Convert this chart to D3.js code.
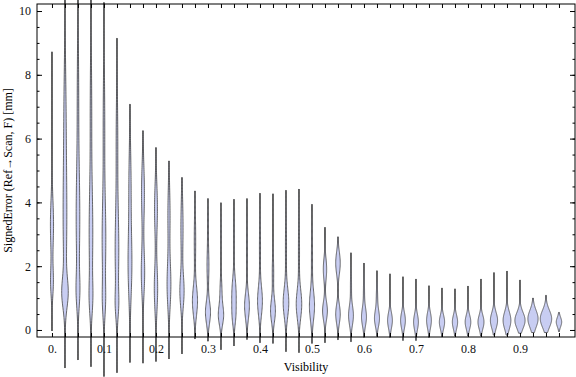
<!DOCTYPE html>
<html>
<head>
<meta charset="utf-8">
<script src="https://cdn.jsdelivr.net/npm/d3@7"></script>
<style>
  body { margin: 0; background: #fff; }
  text { font-family: "Liberation Serif", "DejaVu Serif", serif; }
</style>
</head>
<body>
<div id="myChart"></div>
<script>
// visibility bins (one violin per bin)
const visibility = d3.range(40).map(i => +(i * 0.025).toFixed(3));

// lowest and highest signed error in each bin [mm]
const lows = [-0.03, -1.19, -0.94, -1.15, -1.46, -1.34, -1.02, -1.04, -0.99, -0.91,
              -0.75, -0.28, -0.35, -0.62, -0.5, -0.3, -0.4, -0.42, -0.68, -0.71,
              -0.42, -0.4, -0.31, -0.37, -0.23, -0.2, -0.23, -0.33, -0.33, -0.23,
              -0.21, -0.19, -0.19, -0.19, -0.16, -0.16, -0.1, -0.08, -0.08, -0.05];
const highs = [8.72, 11.5, 11.2, 11.3, 10.27, 9.15, 7.08, 6.25, 5.72, 5.3,
               4.78, 4.36, 4.12, 3.99, 4.1, 4.12, 4.29, 4.27, 4.38, 4.42,
               3.94, 3.22, 2.92, 2.42, 2.1, 1.86, 1.76, 1.67, 1.6, 1.39,
               1.32, 1.29, 1.38, 1.6, 1.8, 1.85, 1.57, 1.0, 1.09, 0.55];

// density modes in each bin: [centre, spread, relative density]
const modes = [
  [[3.3, 0.8, 0.26], [1.5, 0.45, 0.22]],
  [[1.15, 0.45, 0.42], [3.5, 1.8, 0.3], [7, 1.5, 0.14]],
  [[3.5, 1.6, 0.3], [1.2, 0.5, 0.22], [7.5, 1.5, 0.11]],
  [[3.0, 1.5, 0.3], [1.0, 0.5, 0.2], [7, 1.5, 0.12]],
  [[2.8, 1.3, 0.3], [6.5, 1.5, 0.13], [0.9, 0.5, 0.18]],
  [[2.5, 1.3, 0.3], [6, 1.3, 0.13], [0.8, 0.4, 0.18]],
  [[2.0, 1.0, 0.3], [4.5, 1.2, 0.18]],
  [[1.8, 0.7, 0.28], [4.3, 0.9, 0.24]],
  [[1.3, 0.7, 0.28], [3.8, 0.8, 0.24]],
  [[1.4, 0.7, 0.31], [3.6, 0.9, 0.18]],
  [[1.2, 0.5, 0.34], [3.2, 0.9, 0.18]],
  [[0.9, 0.45, 0.42], [2.8, 0.8, 0.12]],
  [[0.55, 0.35, 0.42], [2.0, 0.5, 0.16], [3.3, 0.5, 0.07]],
  [[0.45, 0.3, 0.42], [1.2, 0.4, 0.16], [3, 0.6, 0.05]],
  [[1.1, 0.5, 0.36], [0.4, 0.3, 0.18], [3, 0.5, 0.05]],
  [[0.75, 0.4, 0.4], [2.5, 0.6, 0.07]],
  [[0.9, 0.45, 0.4], [2.6, 0.7, 0.09]],
  [[0.6, 0.35, 0.4], [1.8, 0.5, 0.12]],
  [[0.85, 0.45, 0.46], [2.6, 0.8, 0.09]],
  [[0.8, 0.45, 0.45], [2.5, 0.8, 0.09]],
  [[0.75, 0.45, 0.42], [2.3, 0.7, 0.09]],
  [[0.6, 0.3, 0.4], [1.9, 0.35, 0.28]],
  [[0.5, 0.3, 0.38], [2.1, 0.35, 0.38]],
  [[0.45, 0.3, 0.4], [1.4, 0.4, 0.09]],
  [[0.4, 0.28, 0.4], [1.2, 0.4, 0.09]],
  [[0.35, 0.25, 0.4], [1.0, 0.35, 0.11]],
  [[0.3, 0.25, 0.4]],
  [[0.3, 0.25, 0.4]],
  [[0.25, 0.25, 0.4]],
  [[0.3, 0.25, 0.4]],
  [[0.25, 0.22, 0.44]],
  [[0.25, 0.22, 0.44]],
  [[0.25, 0.22, 0.47]],
  [[0.25, 0.22, 0.5]],
  [[0.3, 0.25, 0.6]],
  [[0.3, 0.27, 0.65]],
  [[0.3, 0.25, 0.85]],
  [[0.35, 0.27, 0.85]],
  [[0.35, 0.27, 0.95]],
  [[0.25, 0.15, 0.45]]
];

// tick values and labels
const xTickValues = [0, 0.1, 0.2, 0.3, 0.4, 0.5, 0.6, 0.7, 0.8, 0.9];
const xTickLabels = ["0.", "0.1", "0.2", "0.3", "0.4", "0.5", "0.6", "0.7", "0.8", "0.9"];
const yTickValues = [0, 2, 4, 6, 8, 10];
const yMinorValues = d3.range(0, 10.01, 0.5);

// set the dimensions and margins of the graph
let margin = {top: 4, right: 1, bottom: 40, left: 37},
    width = 576 - margin.left - margin.right,
    height = 377 - margin.top - margin.bottom;

let svg = d3.select("#myChart")
  .append("svg")
    .attr("width", 576)
    .attr("height", 377)
  .append("g")
    .attr("transform", "translate(" + margin.left + "," + margin.top + ")");

let x = d3.scaleLinear()
  .domain([-0.0288, 1.0058])
  .range([0, width]);

let y = d3.scaleLinear()
  .domain([-0.22, 10.22])
  .range([height, 0]);

// density -> half width in px
let w = d3.scaleLinear()
  .domain([0, 1])
  .range([0, 6]);

// violins
let violins = visibility.map((v, i) => {
  let lo = lows[i], hi = highs[i];
  let pts = d3.range(0, 121).map(k => {
    let e = lo + (hi - lo) * k / 120;
    let d = d3.sum(modes[i], m => m[2] * Math.exp(-0.5 * Math.pow((e - m[0]) / m[1], 2)));
    return {e: e, hw: w(d)};
  });
  return {v: v, lo: lo, hi: hi, pts: pts};
});

let area = d3.area()
  .y(d => y(d.e))
  .curve(d3.curveLinear);

let vg = svg.append("g");

// tails drawn as a thin line from min to max
vg.selectAll("line")
  .data(violins)
  .enter()
  .append("line")
    .attr("x1", d => x(d.v))
    .attr("x2", d => x(d.v))
    .attr("y1", d => y(d.lo))
    .attr("y2", d => y(d.hi))
    .attr("stroke", "#555")
    .attr("stroke-width", 1.2);

vg.selectAll("path")
  .data(violins)
  .enter()
  .append("path")
    .attr("d", d => area
        .x0(p => x(d.v) - p.hw)
        .x1(p => x(d.v) + p.hw)(d.pts))
    .attr("fill", "#c8cdf2")
    .attr("stroke", "#444")
    .attr("stroke-width", 0.8);

// frame
svg.append("rect")
  .attr("x", 0)
  .attr("y", 0)
  .attr("width", width)
  .attr("height", height)
  .attr("fill", "none")
  .attr("stroke", "#000")
  .attr("stroke-width", 1);

// bottom axis: labels every 0.1, ticks at every bin
let bottom = svg.append("g")
  .attr("transform", "translate(0," + height + ")");
bottom.call(d3.axisBottom(x).tickValues(visibility).tickSize(-4).tickFormat(""))
  .call(g => g.select(".domain").remove());
bottom.append("g")
  .call(d3.axisBottom(x).tickValues(xTickValues).tickSize(0).tickPadding(7)
    .tickFormat((d, i) => xTickLabels[i]))
  .call(g => g.select(".domain").remove());

// top ticks
svg.append("g")
  .call(d3.axisTop(x).tickValues(visibility).tickSize(-4).tickFormat(""))
  .call(g => g.select(".domain").remove());

// left axis
svg.append("g")
  .call(d3.axisLeft(y).tickValues(yTickValues).tickSize(-5).tickPadding(6))
  .call(g => g.select(".domain").remove());
svg.append("g")
  .call(d3.axisLeft(y).tickValues(yMinorValues).tickSize(-2.5).tickFormat(""))
  .call(g => g.select(".domain").remove());

// right ticks
let right = svg.append("g")
  .attr("transform", "translate(" + width + ",0)");
right.call(d3.axisRight(y).tickValues(yTickValues).tickSize(-5).tickFormat(""))
  .call(g => g.select(".domain").remove());
right.append("g")
  .call(d3.axisRight(y).tickValues(yMinorValues).tickSize(-2.5).tickFormat(""))
  .call(g => g.select(".domain").remove());

svg.selectAll(".tick text")
  .attr("font-family", "Liberation Serif")
  .attr("font-size", 12)
  .attr("fill", "#111");
svg.selectAll(".tick line").attr("stroke", "#000");

// axis labels
svg.append("text")
  .attr("x", width / 2)
  .attr("y", height + 34)
  .attr("text-anchor", "middle")
  .attr("font-size", 12)
  .text("Visibility");

svg.append("text")
  .attr("transform", "translate(" + (-25) + "," + (height / 2) + ") rotate(-90)")
  .attr("text-anchor", "middle")
  .attr("font-size", 12)
  .text("SignedError (Ref\u2192Scan, F) [mm]");
</script>
</body>
</html>
